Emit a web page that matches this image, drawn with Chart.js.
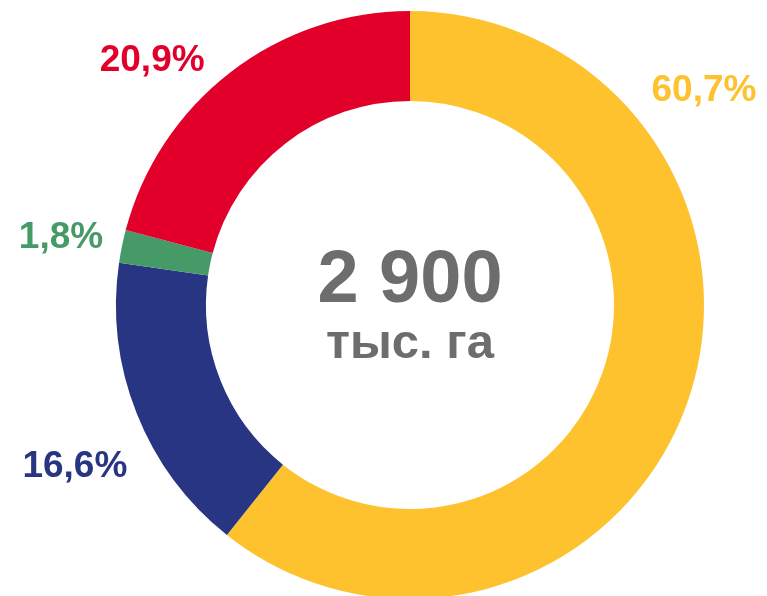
<!DOCTYPE html>
<html>
    <head>
        <meta charset="UTF-8">
        <title>Площадь</title>
        <script src="https://cdn.jsdelivr.net/npm/chart.js@4/dist/chart.umd.min.js"></script>
        <style>
            body { margin: 0; overflow: hidden; background: #fff; }
        </style>
    </head>
    <body>
        <canvas id="grafica" width="767" height="616"></canvas>

        <script type="text/javascript">
        // datos
        var categorias = ["A", "B", "C", "D"];
        var valores = [60.7, 16.6, 1.8, 20.9];
        var etiquetas = ["60,7%", "16,6%", "1,8%", "20,9%"];
        var colores = ["#FDC22E", "#283583", "#469A68", "#E2002B"];
        var totalTexto = "2 900";
        var unidadTexto = "тыс. га";

        // posicion de cada etiqueta respecto al centro, en radios exteriores
        var posEtiquetas = [[1.0, -0.73], [-1.14, 0.55], [-1.187, -0.23], [-0.877, -0.83]];

        var textos = {
            id: 'textos',
            afterDraw: function (chart) {
                var ctx = chart.ctx;
                var arc = chart.getDatasetMeta(0).data[0];
                var cx = arc.x, cy = arc.y, r = arc.outerRadius;
                ctx.save();
                ctx.textAlign = 'center';
                ctx.textBaseline = 'middle';
                ctx.font = 'bold 37px "Liberation Sans", Arial, sans-serif';
                for (var k = 0; k < etiquetas.length; k++) {
                    ctx.fillStyle = colores[k];
                    ctx.fillText(etiquetas[k], cx + posEtiquetas[k][0] * r, cy + posEtiquetas[k][1] * r);
                }
                ctx.fillStyle = '#6D6D6D';
                ctx.textBaseline = 'alphabetic';
                ctx.font = 'bold 74px "Liberation Sans", Arial, sans-serif';
                ctx.fillText(totalTexto, cx, cy - 3);
                ctx.font = 'bold 49px "Liberation Sans", Arial, sans-serif';
                ctx.fillText(unidadTexto, cx, cy + 53);
                ctx.restore();
            }
        };

        var miCanvas = document.getElementById('grafica').getContext("2d");
        var chart = new Chart(miCanvas, {
            type: 'doughnut',
            data: {
                labels: categorias,
                datasets: [{
                    data: valores,
                    backgroundColor: colores,
                    borderWidth: 0
                }]
            },
            options: {
                responsive: false,
                animation: false,
                cutout: '69.4%',
                layout: { padding: { top: 11, bottom: 17, left: 53, right: 0 } },
                plugins: {
                    legend: { display: false },
                    tooltip: { enabled: false }
                }
            },
            plugins: [textos]
        });
        </script>
    </body>
</html>
